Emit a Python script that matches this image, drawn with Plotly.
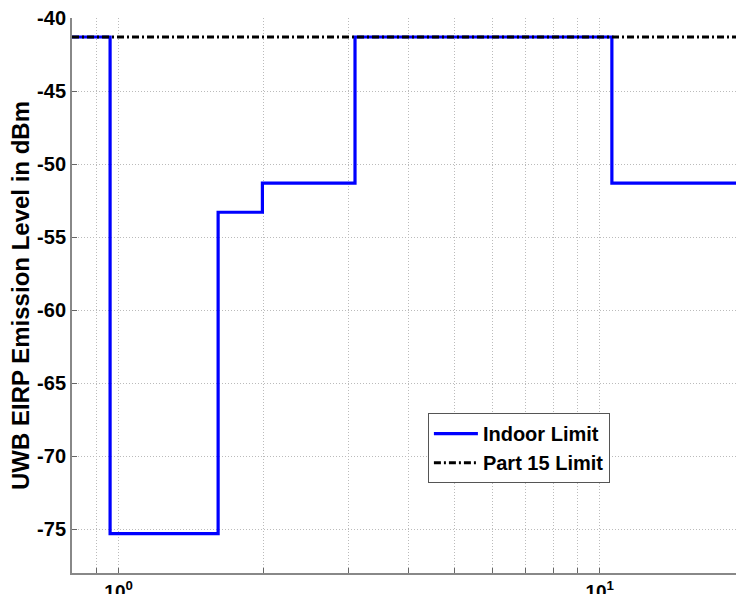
import numpy as np
import plotly.graph_objects as go

# Data (frequency in GHz, EIRP limit in dBm)
indoor_freq = [0.8, 0.96, 1.61, 1.99, 3.1, 10.6, 20.0]
indoor_level = [-41.3, -75.3, -53.3, -51.3, -41.3, -51.3, -51.3]
part15_freq = [0.8, 20.0]
part15_level = [-41.3, -41.3]

x_tickvals = [0.9, 1, 2, 3, 4, 5, 6, 7, 8, 9, 10]
x_ticktext = ["", "10<sup>0</sup>", "", "", "", "", "", "", "", "", "10<sup>1</sup>"]
y_tickvals = [-40, -45, -50, -55, -60, -65, -70, -75]

fig = go.Figure()
fig.add_trace(go.Scatter(
    x=indoor_freq, y=indoor_level, mode="lines", line_shape="hv",
    name="<b>Indoor Limit</b>", line=dict(color="#0000ff", width=3.2)))
fig.add_trace(go.Scatter(
    x=part15_freq, y=part15_level, mode="lines",
    name="<b>Part 15 Limit</b>", line=dict(color="black", width=3, dash="7px,3px,2px,3px")))

fam = "Liberation Sans, Arial, sans-serif"
fig.update_layout(
    width=736, height=594,
    margin=dict(l=72, r=0, t=18, b=21, autoexpand=False),
    paper_bgcolor="white", plot_bgcolor="white",
    font=dict(family=fam, size=18, color="black"),
    showlegend=True,
    legend=dict(x=0.536, y=0.288, xanchor="left", yanchor="top",
                bgcolor="white", bordercolor="#555555", borderwidth=1,
                font=dict(size=20, family=fam, color="black"),
                tracegroupgap=0, itemwidth=44),
)
fig.update_xaxes(
    type="log", range=[np.log10(0.8), np.log10(19.2)],
    tickvals=x_tickvals, ticktext=[f"<b>{t}</b>" if t else "" for t in x_ticktext],
    ticks="inside", ticklen=5, tickcolor="#666666",
    showline=True, linecolor="#888888", linewidth=2,
    showgrid=True, gridcolor="#bbbbbb", griddash="1px,2px", gridwidth=1,
    zeroline=False, automargin=False,
    tickfont=dict(size=19, family=fam, color="black"),
)
fig.update_yaxes(
    range=[-78, -40], tickvals=y_tickvals, ticktext=[f"<b>{v}</b>" for v in y_tickvals],
    ticks="inside", ticklen=5, tickcolor="#666666",
    showline=True, linecolor="#888888", linewidth=2,
    showgrid=True, gridcolor="#bbbbbb", griddash="1px,2px", gridwidth=1,
    zeroline=False, automargin=False,
    tickfont=dict(size=20, family=fam, color="black"),
    title=dict(text="<b>UWB EIRP Emission Level in dBm</b>", standoff=1,
               font=dict(size=24, family=fam, color="black")),
)

fig.write_html("out.html", config={"displayModeBar": False},
               post_script="document.body.style.margin='0';")
